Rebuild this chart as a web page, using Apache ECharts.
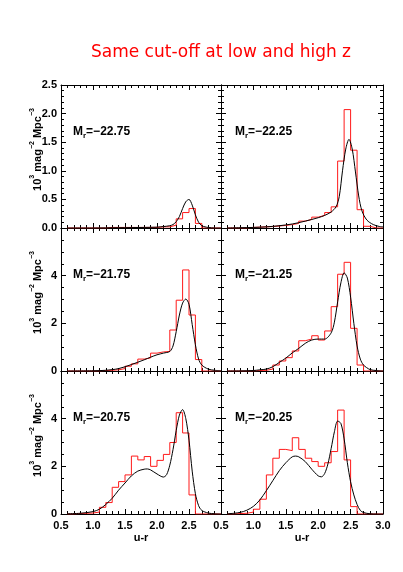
<!DOCTYPE html>
<html>
<head>
<meta charset="utf-8">
<script src="https://cdn.jsdelivr.net/npm/echarts@6/dist/echarts.min.js"></script>
<style>
  html, body { margin: 0; padding: 0; background: #fff; }
  #chart { width: 403px; height: 572px; }
</style>
</head>
<body>
<div id="chart"></div>
<script>
// left edges of the u-r bins (bin width 0.1)
const binLeft = [0.6, 0.7, 0.8, 0.9, 1.0, 1.1, 1.2, 1.3, 1.4, 1.5, 1.6, 1.7,
                 1.8, 1.9, 2.0, 2.1, 2.2, 2.3, 2.4, 2.5, 2.6, 2.7, 2.8, 2.9];

// red histograms (10^3 mag^-2 Mpc^-3), one value per bin
const hist2275 = [0, 0, 0, 0, 0, 0, 0.01, 0.01, 0.01, 0.01, 0.01, 0.01,
                  0.01, 0.01, 0.02, 0.02, 0.05, 0.16, 0.27, 0.34, 0.08, 0, 0, 0];
const hist2225 = [0, 0, 0, 0.01, 0.015, 0.02, 0.025, 0.035, 0.045, 0.06, 0.08, 0.12,
                  0.15, 0.19, 0.22, 0.27, 0.37, 1.17, 2.07, 1.36, 0.32, 0.03, 0, 0];
const hist2175 = [0, 0, 0, 0, 0, 0.02, 0.03, 0.05, 0.1, 0.2, 0.3, 0.5,
                  0.55, 0.75, 0.8, 0.82, 1.72, 2.97, 4.24, 2.35, 0.48, 0, 0, 0];
const hist2125 = [0, 0, 0, 0, 0.02, 0.03, 0.08, 0.25, 0.42, 0.56, 0.84, 1.27,
                  1.34, 1.48, 1.3, 1.68, 2.7, 4.06, 4.56, 1.79, 0.25, 0, 0, 0];
const hist2075 = [0, 0.02, 0.03, 0.04, 0.08, 0.28, 0.48, 1.12, 1.36, 1.64, 2.43, 2.27,
                  2.41, 2.0, 2.25, 2.5, 3.0, 4.25, 3.4, 0.8, 0, 0, 0, 0];
const hist2025 = [0, 0.02, 0.03, 0.08, 0.2, 0.62, 1.64, 2.34, 2.71, 2.66, 3.2, 2.71,
                  2.34, 2.2, 2.0, 2.15, 2.62, 4.36, 2.27, 0.31, 0, 0, 0, 0];

// black model curves
const curve2275X = [0.6, 1.0, 1.4, 1.8, 2.0, 2.1, 2.2, 2.25, 2.3, 2.35, 2.4, 2.45, 2.5,
                    2.55, 2.6, 2.65, 2.7, 2.75, 2.8, 2.9, 3.0];
const curve2275Y = [0, 0, 0.005, 0.01, 0.015, 0.025, 0.04, 0.06, 0.11, 0.2, 0.34, 0.46, 0.5,
                    0.4, 0.23, 0.1, 0.04, 0.02, 0.01, 0, 0];
const curve2225X = [0.6, 0.8, 1.0, 1.2, 1.4, 1.6, 1.8, 2.0, 2.1, 2.2, 2.275, 2.325, 2.375, 2.425,
                    2.475, 2.525, 2.575, 2.625, 2.675, 2.75, 2.85, 2.95, 3.0];
const curve2225Y = [0, 0.005, 0.01, 0.02, 0.04, 0.07, 0.12, 0.18, 0.22, 0.28, 0.37, 0.55, 1.0, 1.38,
                    1.55, 1.38, 0.98, 0.56, 0.3, 0.14, 0.06, 0.025, 0.02];
const curve2175X = [0.6, 1.0, 1.2, 1.4, 1.6, 1.8, 1.9, 2.0, 2.1, 2.2, 2.25, 2.3, 2.35, 2.4,
                    2.45, 2.5, 2.55, 2.6, 2.65, 2.7, 2.8, 2.9, 3.0];
const curve2175Y = [0, 0.01, 0.03, 0.1, 0.27, 0.47, 0.58, 0.68, 0.75, 0.82, 1.05, 1.65, 2.35, 2.85,
                    3.02, 2.8, 1.95, 1.1, 0.5, 0.25, 0.08, 0.03, 0.01];
const curve2125X = [0.6, 0.8, 1.0, 1.1, 1.2, 1.3, 1.4, 1.5, 1.6, 1.7, 1.8, 1.9, 2.0, 2.1,
                    2.2, 2.25, 2.3, 2.35, 2.4, 2.45, 2.5, 2.55, 2.6, 2.65, 2.7, 2.8, 2.9, 3.0];
const curve2125Y = [0, 0.005, 0.02, 0.05, 0.08, 0.18, 0.36, 0.54, 0.76, 0.95, 1.16, 1.3, 1.34, 1.34,
                    1.6, 2.05, 2.9, 3.7, 4.12, 3.9, 3.1, 2.0, 1.05, 0.5, 0.25, 0.06, 0.02, 0];
const curve2075X = [0.6, 0.8, 1.0, 1.1, 1.2, 1.3, 1.4, 1.5, 1.6, 1.7, 1.8, 1.85, 1.9, 2.0, 2.1,
                    2.15, 2.2, 2.25, 2.3, 2.35, 2.4, 2.45, 2.5, 2.55, 2.6, 2.65, 2.7, 2.8, 2.9, 3.0];
const curve2075Y = [0.01, 0.03, 0.1, 0.2, 0.4, 0.66, 1.0, 1.3, 1.6, 1.8, 1.88, 1.89, 1.85, 1.68, 1.55,
                    1.65, 2.05, 2.7, 3.5, 4.15, 4.38, 4.0, 3.1, 1.8, 0.85, 0.35, 0.15, 0.04, 0.01, 0];
const curve2025X = [0.6, 0.7, 0.8, 0.9, 1.0, 1.1, 1.2, 1.3, 1.4, 1.5, 1.6, 1.65, 1.7, 1.8, 1.9, 2.0,
                    2.05, 2.1, 2.15, 2.2, 2.25, 2.3, 2.35, 2.4, 2.45, 2.5, 2.55, 2.6, 2.65, 2.7, 2.8, 2.9, 3.0];
const curve2025Y = [0.01, 0.03, 0.07, 0.16, 0.32, 0.59, 0.98, 1.4, 1.82, 2.15, 2.4, 2.43, 2.4, 2.2, 1.88, 1.6,
                    1.56, 1.7, 2.1, 2.75, 3.45, 3.9, 3.8, 3.15, 2.15, 1.35, 0.8, 0.4, 0.15, 0.06, 0.01, 0, 0];

const magLabels = ['−22.75', '−22.25', '−21.75', '−21.25', '−20.75', '−20.25'];
const hists = [hist2275, hist2225, hist2175, hist2125, hist2075, hist2025];
const curvesX = [curve2275X, curve2225X, curve2175X, curve2125X, curve2075X, curve2025X];
const curvesY = [curve2275Y, curve2225Y, curve2175Y, curve2125Y, curve2075Y, curve2025Y];

const FONT = 'Liberation Sans';
const colPos = [{ left: 61, width: 160 }, { left: 221, width: 162 }];
const rowTop = [85, 228, 371];
const rowH = 143;

function histData(vals) {
  const d = [[binLeft[0], 0]];
  vals.forEach((v, i) => d.push([binLeft[i], v]));
  d.push([Math.round((binLeft[binLeft.length - 1] + 0.1) * 10) / 10, 0]);
  return d;
}

const tickStyle = { color: '#000', width: 1 };
const labelStyle = { color: '#000', fontFamily: FONT, fontWeight: 'bold', fontSize: 11 };

const grid = [], xAxis = [], yAxis = [], series = [], graphic = [];

for (let p = 0; p < 6; p++) {
  const r = Math.floor(p / 2), c = p % 2;
  grid.push({ left: colPos[c].left, width: colPos[c].width, top: rowTop[r], height: rowH });

  ['bottom', 'top'].forEach(pos => {
    const showLab = pos === 'bottom' && r === 2;
    xAxis.push({
      type: 'value', gridIndex: p, position: pos, min: 0.5, max: 3.0, interval: 0.5,
      axisLine: { show: true, onZero: false, lineStyle: tickStyle },
      axisTick: { show: true, inside: true, length: 5, lineStyle: tickStyle },
      minorTick: { show: true, splitNumber: 5, length: 3, lineStyle: tickStyle },
      splitLine: { show: false },
      axisLabel: Object.assign({
        show: showLab, margin: 6, showMaxLabel: c === 1,
        formatter: v => v.toFixed(1)
      }, labelStyle)
    });
  });

  const top = r === 0;
  ['left', 'right'].forEach(pos => {
    const showLab = pos === 'left' && c === 0;
    yAxis.push({
      type: 'value', gridIndex: p, position: pos, min: 0,
      max: top ? 2.5 : 6, interval: top ? 0.5 : 2,
      axisLine: { show: true, onZero: false, lineStyle: tickStyle },
      axisTick: { show: true, inside: true, length: 5, lineStyle: tickStyle },
      minorTick: { show: true, splitNumber: top ? 5 : 4, length: 3, lineStyle: tickStyle },
      splitLine: { show: false },
      axisLabel: Object.assign({
        show: showLab, margin: 4, showMaxLabel: top,
        formatter: v => top ? v.toFixed(1) : String(v)
      }, labelStyle)
    });
  });

  series.push({
    type: 'line', xAxisIndex: 2 * p, yAxisIndex: 2 * p, step: 'end',
    data: histData(hists[p]), showSymbol: false, silent: true,
    lineStyle: { color: '#ff1a1a', width: 1 }
  });
  series.push({
    type: 'line', xAxisIndex: 2 * p, yAxisIndex: 2 * p, smooth: 0.3,
    data: curvesX[p].map((x, i) => [x, curvesY[p][i]]), showSymbol: false, silent: true,
    lineStyle: { color: '#000', width: 1 }
  });

  graphic.push({
    type: 'text', x: colPos[c].left + (c === 0 ? 12 : 14), y: rowTop[r] + 48,
    style: {
      text: '{b|M}{s|r}{b|=' + magLabels[p] + '}',
      textVerticalAlign: 'middle', textAlign: 'left',
      rich: {
        b: { fontFamily: FONT, fontWeight: 'bold', fontSize: 12, fill: '#000', lineHeight: 14, verticalAlign: 'top' },
        s: { fontFamily: FONT, fontWeight: 'bold', fontSize: 8, fill: '#000', lineHeight: 14, verticalAlign: 'bottom' }
      }
    }
  });
}

// y titles
rowTop.forEach(t => {
  graphic.push({
    type: 'text', x: 36, y: t + rowH / 2 - 7, rotation: Math.PI / 2,
    style: {
      text: '{b|10}{p|3}{b| mag}{p|−2}{b| Mpc}{p|−3}',
      textAlign: 'center', textVerticalAlign: 'middle',
      rich: {
        b: { fontFamily: FONT, fontWeight: 'bold', fontSize: 11, fill: '#000', lineHeight: 14, verticalAlign: 'bottom' },
        p: { fontFamily: FONT, fontWeight: 'bold', fontSize: 7, fill: '#000', lineHeight: 14, verticalAlign: 'top' }
      }
    }
  });
});

// x titles
colPos.forEach(cp => {
  graphic.push({
    type: 'text', x: cp.left + cp.width / 2, y: 538,
    style: { text: 'u-r', fill: '#000', font: 'bold 11px "Liberation Sans"', textAlign: 'center', textVerticalAlign: 'middle' }
  });
});

// title
graphic.push({
  type: 'text', x: 221, y: 53,
  style: { text: 'Same cut-off at low and high z', fill: '#ff0000', font: '17px "DejaVu Sans"', textAlign: 'center', textVerticalAlign: 'middle' }
});

const chart = echarts.init(document.getElementById('chart'), null, { renderer: 'canvas' });
chart.setOption({
  animation: false,
  backgroundColor: '#fff',
  grid, xAxis, yAxis, series, graphic
});
</script>
</body>
</html>
